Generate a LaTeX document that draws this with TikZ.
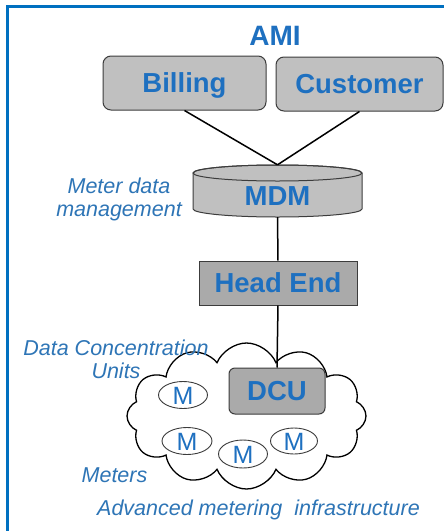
\documentclass[tikz,border=0pt]{standalone}
\usepackage{fontspec}
\setmainfont{Liberation Sans}
\usetikzlibrary{shapes.geometric,shapes.symbols}
\definecolor{txtblue}{RGB}{30,112,192}
\definecolor{lblblue}{RGB}{46,117,182}
\definecolor{frameblue}{RGB}{0,112,192}
\definecolor{boxgray}{RGB}{192,192,192}
\definecolor{boxgraydk}{RGB}{170,170,170}
\definecolor{edgegray}{RGB}{60,60,60}
\begin{document}
\begin{tikzpicture}[x=1pt,y=-1pt,
  boxtxt/.style={font=\fontsize{27.5}{30}\selectfont\bfseries, text=txtblue, text height=19.5pt, text depth=0pt},
  rbox/.style={draw=edgegray, line width=1pt, rounded corners=8pt, fill=boxgray, boxtxt, inner sep=0pt},
  sbox/.style={draw=edgegray, line width=1pt, fill=boxgraydk, boxtxt, inner sep=0pt},
  lbl/.style={font=\fontsize{21.5}{23}\selectfont\itshape, text=lblblue, inner sep=0pt, align=center},
  meter/.style={ellipse, draw=edgegray, line width=0.9pt, fill=white, inner sep=0pt,
     minimum width=49pt, minimum height=27pt, font=\fontsize{25}{26}\selectfont, text=txtblue,
     text height=18pt, text depth=0pt},
  conn/.style={draw=black, line width=1.5pt}
]
\useasboundingbox (0,0) rectangle (444,531);
\fill[white] (0,0) rectangle (444,531);
\draw[frameblue, line width=3pt] (7,531) -- (7,6) -- (444,6);

\node[font=\fontsize{28}{30}\selectfont\bfseries, text=txtblue, inner sep=0pt] (ami) at (275,35.5) {AMI};

\node[rbox, minimum width=163pt, minimum height=54pt] (bill) at (184.5,83) {Billing};
\node[rbox, minimum width=167pt, minimum height=54pt] (cust) at (359.5,84) {Customer};

% MDM cylinder
\node[inner sep=0pt, minimum width=169pt, minimum height=52pt] (mdm) at (277.5,191) {};
\filldraw[fill=boxgray, draw=edgegray, line width=1pt]
  (193,173) -- (193,209) arc[start angle=180, end angle=0, x radius=84.5, y radius=8]
  -- (362,173) arc[start angle=0, end angle=-180, x radius=84.5, y radius=8] -- cycle;
\draw[edgegray, line width=1pt] (277.5,173) ellipse[x radius=84.5, y radius=8];
\node[boxtxt, inner sep=0pt] (mdmlbl) at ([yshift=-4.5pt]mdm.center) {MDM};

\draw[conn] (bill.south) -- (mdm.north);
\draw[conn] (cust.south) -- (mdm.north);

\node[lbl] (mdmtxt) at (119,199) {Meter data\\management};

\node[sbox, minimum width=158pt, minimum height=44pt] (he) at (278,283) {Head End};
\draw[conn] (mdm.south) -- (he.north);

% cloud
\node[cloud, draw=black, line width=1.3pt, fill=white, cloud puffs=12, cloud puff arc=135,
      cloud ignores aspect, minimum width=239pt, minimum height=146pt] (cloud) at (246.5,416) {};

\node[sbox, rounded corners=6pt, minimum width=96pt, minimum height=46pt] (dcu) at (277,391) {DCU};
\draw[conn] (he.south) -- (dcu.north);

\node[meter] (m1) at (183,395) {M};
\node[meter, minimum width=50pt, minimum height=27pt] (m2) at (187,441) {M};
\node[meter, minimum height=28pt] (m3) at (243,454) {M};
\node[meter, minimum width=47pt, minimum height=26pt] (m4) at (294,441) {M};

\node[lbl] (dcutxt) at (116,359.5) {Data Concentration\\Units};
\node[lbl, anchor=base] (mtxt) at (114.5,482) {Meters};
\node[lbl, anchor=base] (amitxt) at (258.5,515) {Advanced metering\ \ infrastructure};
\end{tikzpicture}
\end{document}
